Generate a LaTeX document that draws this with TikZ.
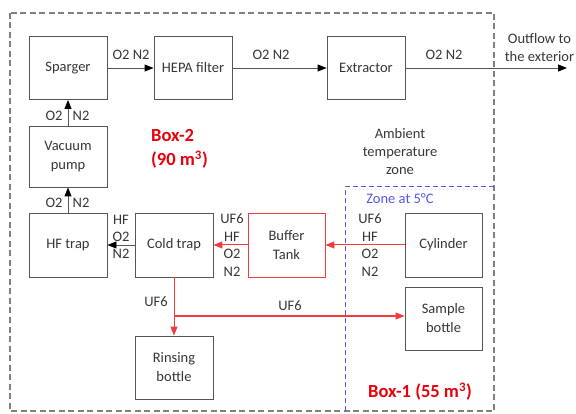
\documentclass[tikz,border=0pt]{standalone}
\usepackage{fontspec}
\setmainfont{Carlito}
\usetikzlibrary{arrows.meta}
\definecolor{boxgray}{HTML}{555555}
\definecolor{txtgray}{HTML}{363636}
\definecolor{zonegray}{HTML}{808080}
\definecolor{flowred}{HTML}{F03C3C}
\definecolor{labred}{HTML}{E8000B}
\definecolor{zoneblue}{HTML}{5555E6}
\begin{document}
\begin{tikzpicture}[x=1pt,y=-1pt,
  every node/.style={font=\fontsize{14.5}{18}\selectfont, text=txtgray},
  unit/.style={draw=boxgray, line width=0.9pt, minimum width=78pt, minimum height=63pt, inner sep=0pt, align=center},
  redunit/.style={unit, draw=flowred},
  flow/.style={draw=boxgray, line width=0.9pt, -{Triangle[length=9pt,width=7pt,color=black]}},
  redflow/.style={draw=flowred, line width=1pt, -{Triangle[length=9pt,width=7pt]}},
  lbl/.style={inner sep=0pt},
  zonetxt/.style={inner sep=0pt, font=\fontsize{18.5}{24}\selectfont\bfseries, text=labred, align=left}
]
\useasboundingbox (0,0) rectangle (576,414);
% zones
\draw[zonegray, line width=1.2pt, dash pattern=on 6pt off 3.5pt] (10,13) rectangle (494,411);
\draw[zoneblue, line width=1pt, dash pattern=on 5pt off 3pt] (345,411) -- (345,187) -- (494,187);
% units
\node[unit] (sparger) at (68,68) {Sparger};
\node[unit] (hepa) at (193,68) {HEPA filter};
\node[unit] (extractor) at (366,68) {Extractor};
\node[unit, minimum height=61pt] (vacuum) at (68,156.5) {Vacuum\\[1pt]pump};
\node[unit, minimum height=64pt] (hftrap) at (68,245) {HF trap};
\node[unit, minimum height=64pt] (coldtrap) at (174,245) {Cold trap};
\node[redunit, minimum width=77pt, minimum height=64pt] (buffer) at (286.5,245) {Buffer\\[1pt]Tank};
\node[unit, minimum width=77pt, minimum height=64pt] (cylinder) at (443.5,245) {Cylinder};
\node[unit, minimum width=77pt] (sample) at (443.5,318.5) {Sample\\[1pt]bottle};
\node[unit] (rinsing) at (174,367.5) {Rinsing\\[1pt]bottle};
\coordinate (out) at (567,68);
\coordinate (branch) at (174,316);
% flows
\draw[flow] (sparger) -- (hepa);
\draw[flow] (hepa) -- (extractor);
\draw[flow] (extractor) -- (out);
\draw[flow] (vacuum) -- (sparger);
\draw[flow] (hftrap) -- (vacuum);
\draw[flow] (coldtrap) -- (hftrap);
\draw[redflow] (buffer) -- (coldtrap);
\draw[redflow] (cylinder) -- (buffer);
\draw[redflow] (coldtrap) -- (rinsing);
\draw[redflow] (branch) -- (branch -| sample.west);
% flow labels
\node[lbl] (l1) at (131,55) {O2 N2};
\node[lbl] (l2) at (271,55) {O2 N2};
\node[lbl] (l3) at (444,55) {O2 N2};
\node[lbl, align=center] (l4) at (539.5,48) {Outflow to\\the exterior};
\node[lbl] (l5a) at (54,116) {O2};
\node[lbl] (l5b) at (81,116) {N2};
\node[lbl] (l6a) at (54,203) {O2};
\node[lbl] (l6b) at (81,203) {N2};
\node[lbl] (l7a) at (121,220) {HF};
\node[lbl] (l7b) at (121,237) {O2};
\node[lbl] (l7c) at (121,254) {N2};
\node[lbl] (l8a) at (232,219) {UF6};
\node[lbl] (l8b) at (232,237) {HF};
\node[lbl] (l8c) at (232,254) {O2};
\node[lbl] (l8d) at (232,272) {N2};
\node[lbl] (l9a) at (370,219) {UF6};
\node[lbl] (l9b) at (370,237) {HF};
\node[lbl] (l9c) at (370,254) {O2};
\node[lbl] (l9d) at (370,272) {N2};
\node[lbl] (l10) at (156,302) {UF6};
\node[lbl] (l11) at (290,306) {UF6};
% zone labels
\node[zonetxt, anchor=west] (box2a) at (151,136) {Box-2};
\node[zonetxt, anchor=west] (box2b) at (151,160) {(90 m\textsuperscript{3})};
\node[lbl, align=center] (amb) at (400,152) {Ambient\\temperature\\zone};
\node[lbl, text=zoneblue] (z5) at (400,199) {Zone at 5°C};
\node[zonetxt] (box1) at (420,392) {Box-1 (55 m\textsuperscript{3})};
\end{tikzpicture}
\end{document}
